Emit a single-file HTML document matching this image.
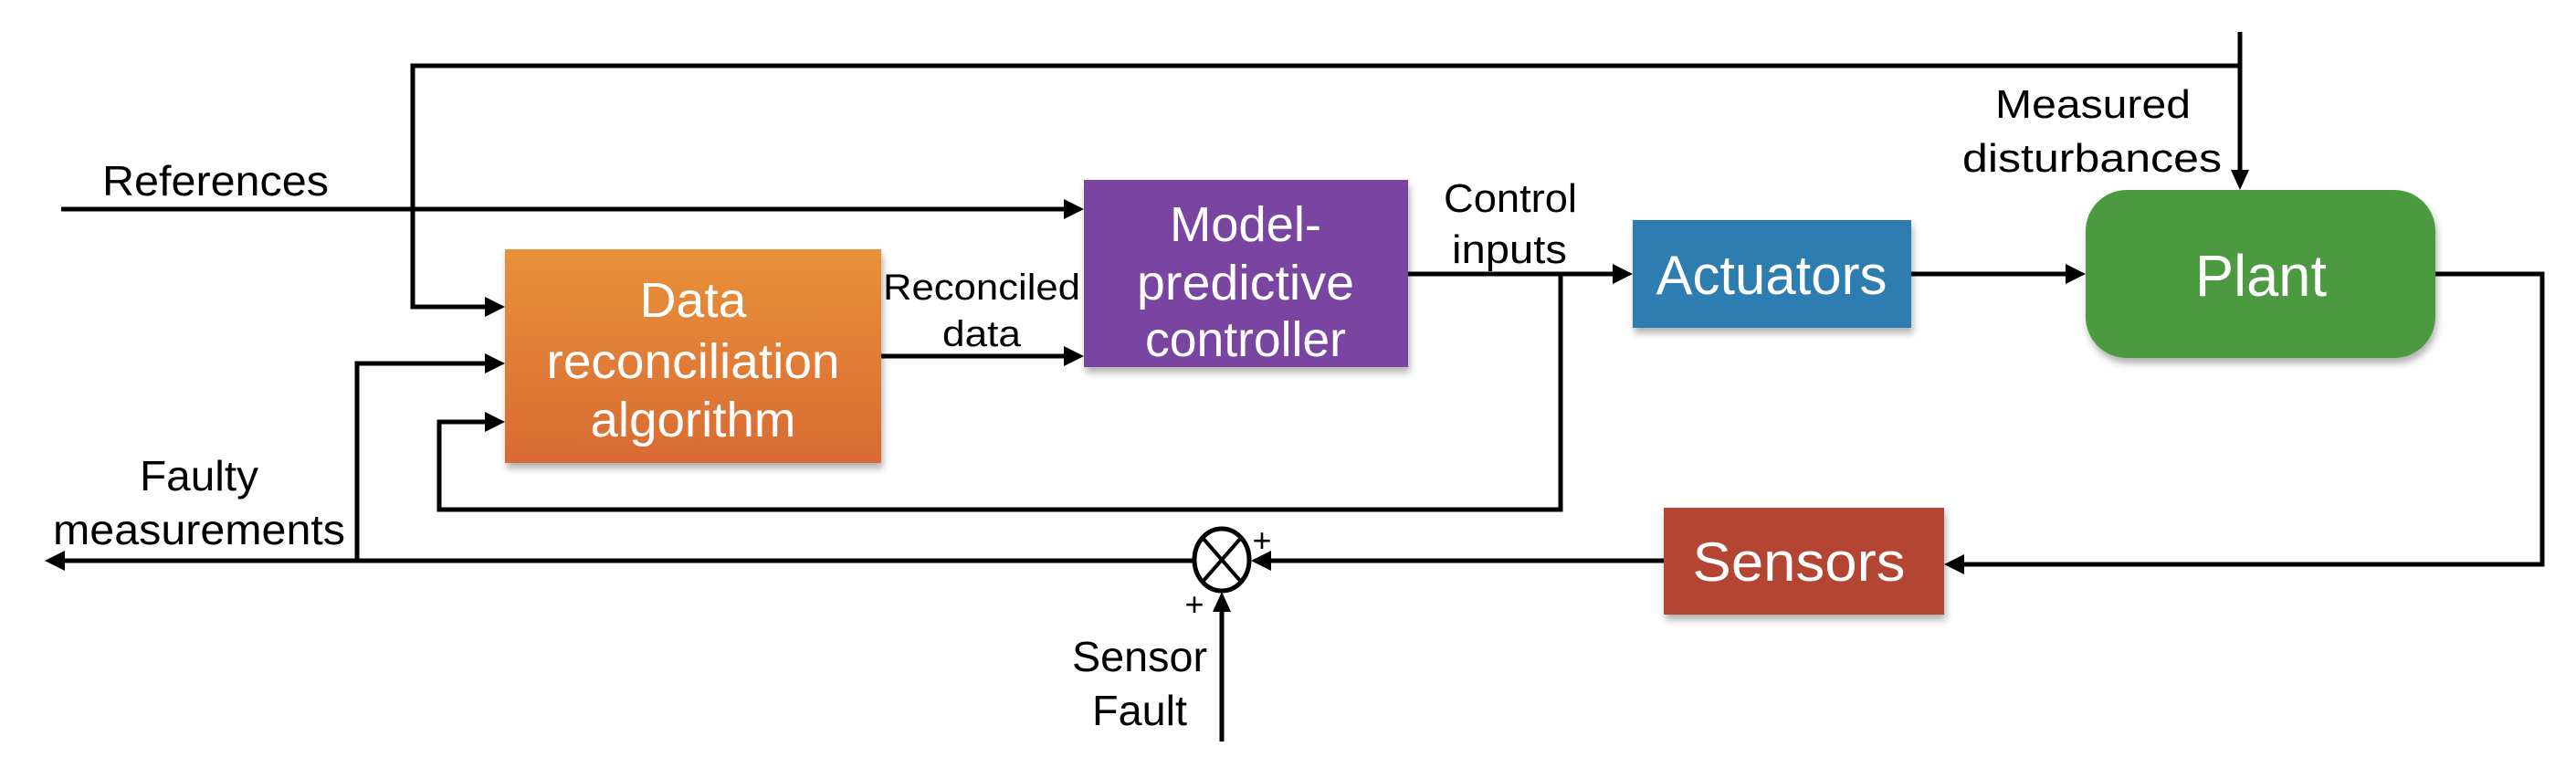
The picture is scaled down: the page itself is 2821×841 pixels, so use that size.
<!DOCTYPE html>
<html><head><meta charset="utf-8"><style>
html,body{margin:0;padding:0;background:#fff;}
svg{display:block}
text{font-family:"Liberation Sans",sans-serif;}
</style></head><body>
<svg width="2821" height="841" viewBox="0 0 2821 841" xmlns="http://www.w3.org/2000/svg">
<defs>
<linearGradient id="og" x1="0" y1="0" x2="0" y2="1"><stop offset="0" stop-color="#e8913a"/><stop offset="1" stop-color="#d96a34"/></linearGradient>
<filter id="sh" x="-5%" y="-5%" width="115%" height="120%"><feDropShadow dx="2" dy="6" stdDeviation="4" flood-color="#000" flood-opacity="0.3"/></filter>
</defs>
<g stroke="#000" stroke-width="5" fill="none">
<polyline points="2453,35 2453,188"/>
<polyline points="2453,72 452,72 452,336 532,336"/>
<line x1="67" y1="229" x2="1167" y2="229"/>
<line x1="965" y1="390" x2="1167" y2="390"/>
<polyline points="391,614 391,398 532,398"/>
<line x1="1542" y1="300" x2="1768" y2="300"/>
<polyline points="1709,300 1709,558 481,558 481,462 532,462"/>
<line x1="2093" y1="300" x2="2264" y2="300"/>
<polyline points="2667,300 2784,300 2784,618 2149,618"/>
<line x1="1822" y1="614" x2="1392" y2="614"/>
<line x1="1308" y1="614" x2="67" y2="614"/>
<line x1="1338" y1="812" x2="1338" y2="668"/>
<ellipse cx="1338" cy="613" rx="30" ry="34"/>
<line x1="1317" y1="589" x2="1359" y2="637" stroke-width="4"/>
<line x1="1359" y1="589" x2="1317" y2="637" stroke-width="4"/>
</g>
<g fill="#000">
<polygon points="2453,208 2443,186 2463,186"/>
<polygon points="553,336 531,325 531,347"/>
<polygon points="553,398 531,387 531,409"/>
<polygon points="553,462 531,451 531,473"/>
<polygon points="1187,229 1165,218 1165,240"/>
<polygon points="1187,390 1165,379 1165,401"/>
<polygon points="1788,300 1766,289 1766,311"/>
<polygon points="2284,300 2262,289 2262,311"/>
<polygon points="2129,618 2151,607 2151,629"/>
<polygon points="1370,614 1392,603 1392,625"/>
<polygon points="49,614 71,603 71,625"/>
<polygon points="1338,648 1328,670 1348,670"/>
</g>
<rect x="553" y="273" width="412" height="234" fill="url(#og)" filter="url(#sh)"/>
<rect x="1187" y="197" width="355" height="205" fill="#7a45a0" filter="url(#sh)"/>
<rect x="1788" y="241" width="305" height="118" fill="#2f7db0" filter="url(#sh)"/>
<rect x="2284" y="208" width="383" height="184" rx="45" fill="#4b9a3f" filter="url(#sh)"/>
<rect x="1822" y="556" width="307" height="117" fill="#b34533" filter="url(#sh)"/>
<g fill="#fff" text-anchor="middle" font-size="54" lengthAdjust="spacingAndGlyphs">
<text x="759" y="347" textLength="117" lengthAdjust="spacingAndGlyphs">Data</text>
<text x="759" y="414" textLength="321" lengthAdjust="spacingAndGlyphs">reconciliation</text>
<text x="759" y="478" textLength="225" lengthAdjust="spacingAndGlyphs">algorithm</text>
<text x="1364" y="264" textLength="166" lengthAdjust="spacingAndGlyphs">Model-</text>
<text x="1364" y="328" textLength="238" lengthAdjust="spacingAndGlyphs">predictive</text>
<text x="1364" y="390" textLength="220" lengthAdjust="spacingAndGlyphs">controller</text>
<text x="1940" y="322" font-size="60" textLength="253" lengthAdjust="spacingAndGlyphs">Actuators</text>
<text x="2476" y="324" font-size="64" textLength="144" lengthAdjust="spacingAndGlyphs">Plant</text>
<text x="1970" y="636" font-size="60" textLength="233" lengthAdjust="spacingAndGlyphs">Sensors</text>
</g>
<g fill="#000" text-anchor="middle" font-size="46">
<text x="236" y="214" textLength="248" lengthAdjust="spacingAndGlyphs">References</text>
<text x="1075" y="328" font-size="40" textLength="216" lengthAdjust="spacingAndGlyphs">Reconciled</text>
<text x="1075" y="379" font-size="40" textLength="86" lengthAdjust="spacingAndGlyphs">data</text>
<text x="1654" y="232" font-size="44" textLength="146" lengthAdjust="spacingAndGlyphs">Control</text>
<text x="1653" y="288" font-size="44" textLength="126" lengthAdjust="spacingAndGlyphs">inputs</text>
<text x="2292" y="129" font-size="44" textLength="214" lengthAdjust="spacingAndGlyphs">Measured</text>
<text x="2291" y="188" font-size="44" textLength="284" lengthAdjust="spacingAndGlyphs">disturbances</text>
<text x="218" y="537" textLength="130" lengthAdjust="spacingAndGlyphs">Faulty</text>
<text x="218" y="596" textLength="320" lengthAdjust="spacingAndGlyphs">measurements</text>
<text x="1248" y="735" textLength="148" lengthAdjust="spacingAndGlyphs">Sensor</text>
<text x="1248" y="794" textLength="104" lengthAdjust="spacingAndGlyphs">Fault</text>
<text x="1382" y="604" font-size="36">+</text>
<text x="1308" y="674" font-size="36">+</text>
</g>
</svg>
</body></html>
